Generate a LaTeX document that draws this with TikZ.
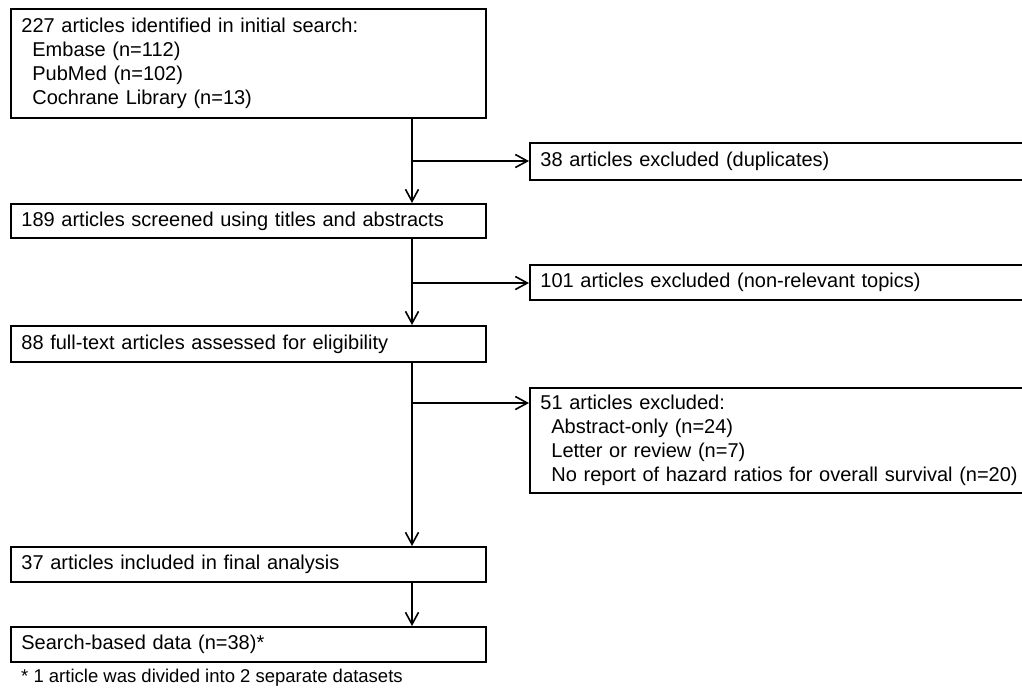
\documentclass[tikz,border=0pt]{standalone}
\usepackage{fontspec}
\setmainfont{Liberation Sans}
\usetikzlibrary{arrows.meta}
\tikzset{
  box/.style={draw, line width=1.8pt, rectangle, anchor=north west,
    inner xsep=10.5pt, inner ysep=0pt, align=left,
    font=\fontsize{20}{24}\selectfont},
  leftbox/.style={box, text width=454pt},
  rightbox/.style={box, text width=580pt},
  flow/.style={line width=1.7pt, -{Straight Barb[length=12pt,width=13pt,line width=1.6pt]}},
  note/.style={anchor=west, inner sep=0pt, font=\fontsize{18.5}{22}\selectfont}
}
\newcommand{\ind}{\hspace*{11pt}}
\begin{document}
\begin{tikzpicture}[x=1pt,y=-1pt]
\useasboundingbox (0,0) rectangle (1022,689);
\node[leftbox, minimum height=109pt] (b1) at (10,8) {227 articles identified in initial search:\\\ind Embase (n=112)\\\ind PubMed (n=102)\\\ind Cochrane Library (n=13)};
\node[rightbox, minimum height=37pt] (b38) at (529,142) {38 articles excluded (duplicates)};
\node[leftbox, minimum height=34pt] (b189) at (10,203) {189 articles screened using titles and abstracts};
\node[rightbox, minimum height=35pt] (b101) at (529,264) {101 articles excluded (non-relevant topics)};
\node[leftbox, minimum height=36pt] (b88) at (10,325) {88 full-text articles assessed for eligibility};
\node[rightbox, minimum height=105pt] (b51) at (529,387) {51 articles excluded:\\\ind Abstract-only (n=24)\\\ind Letter or review (n=7)\\\ind No report of hazard ratios for overall survival (n=20)};
\node[leftbox, minimum height=35pt] (b37) at (10,546) {37 articles included in final analysis};
\node[leftbox, minimum height=35pt] (bS) at (10,626) {Search-based data (n=38)*};
\node[note] (fn) at (21,678) {* 1 article was divided into 2 separate datasets};
\coordinate (spine) at (412,0);
\coordinate (j1) at (412,161);
\coordinate (j2) at (412,283);
\coordinate (j3) at (412,403);
\draw[flow] (b1.south -| spine) -- (b189.north -| spine);
\draw[flow] (j1) -- (j1 -| b38.west);
\draw[flow] (b189.south -| spine) -- (b88.north -| spine);
\draw[flow] (j2) -- (j2 -| b101.west);
\draw[flow] (b88.south -| spine) -- (b37.north -| spine);
\draw[flow] (j3) -- (j3 -| b51.west);
\draw[flow] (b37.south -| spine) -- (bS.north -| spine);
\end{tikzpicture}
\end{document}
